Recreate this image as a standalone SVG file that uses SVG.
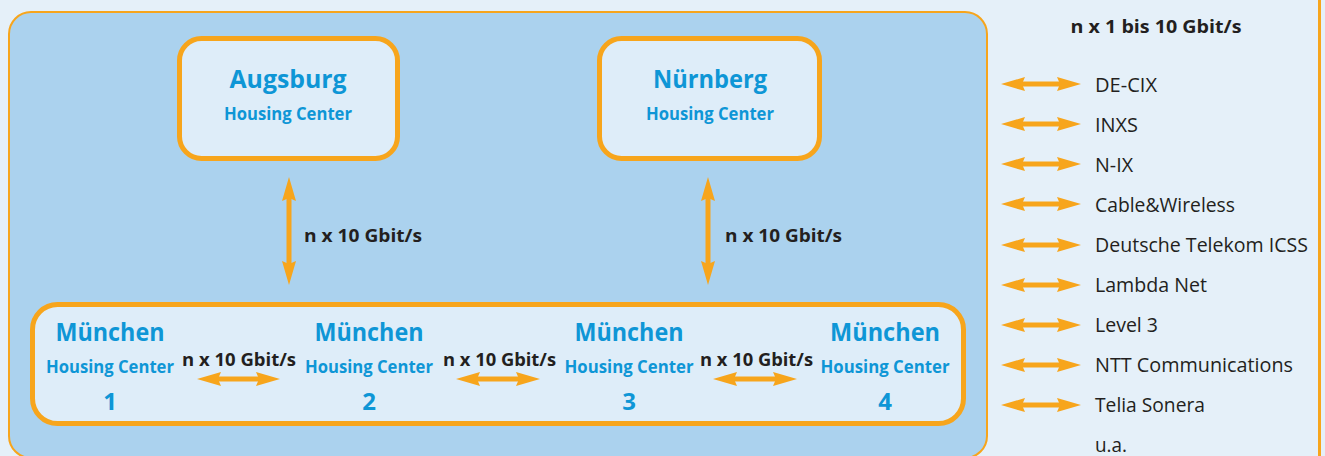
<svg xmlns="http://www.w3.org/2000/svg" width="1325" height="456" viewBox="0 0 1325 456">
<defs>
<style>
.node{fill:#deedf9;stroke:#f7a51c;stroke-width:5}
.city{font-family:"Open Sans","Liberation Sans",sans-serif;font-weight:bold;font-size:25px;fill:#0e96d6;text-anchor:middle}
.hc{font-family:"Open Sans","Liberation Sans",sans-serif;font-weight:bold;font-size:18px;fill:#0e96d6;text-anchor:middle}
.num{font-family:"Open Sans","Liberation Sans",sans-serif;font-weight:bold;font-size:24px;fill:#0e96d6;text-anchor:middle}
.lbl{font-family:"Open Sans","Liberation Sans",sans-serif;font-weight:bold;font-size:18px;fill:#231f20}
.ext{font-family:"Open Sans","Liberation Sans",sans-serif;font-size:20px;fill:#231f20}
.conn{stroke:#f7a51c;stroke-width:5;fill:none;marker-start:url(#ah);marker-end:url(#ah)}
</style>
<marker id="ah" markerUnits="userSpaceOnUse" viewBox="0 -7 24 14" markerWidth="24" markerHeight="14" refX="3" refY="0" orient="auto-start-reverse">
<path d="M0,-7 L24,0 L0,7 L3,0 Z" fill="#f7a51c"/>
</marker>
</defs>
<rect x="0" y="0" width="1325" height="456" fill="#e5f0f9"/>
<rect x="1318" y="0" width="3" height="456" fill="#f7a51c"/>
<rect id="outer" x="9" y="12" width="978" height="446" rx="22" fill="#abd2ee" stroke="#f7a51c" stroke-width="2"/>

<g id="augsburg">
<rect class="node" x="179.5" y="38.5" width="218" height="120" rx="22"/>
<text class="city" x="288" y="88" textLength="117" lengthAdjust="spacingAndGlyphs">Augsburg</text>
<text class="hc" x="288" y="120" textLength="128" lengthAdjust="spacingAndGlyphs">Housing Center</text>
</g>
<g id="nuernberg">
<rect class="node" x="599.5" y="38.5" width="220" height="120" rx="22"/>
<text class="city" x="710" y="88" textLength="114" lengthAdjust="spacingAndGlyphs">Nürnberg</text>
<text class="hc" x="710" y="120" textLength="128" lengthAdjust="spacingAndGlyphs">Housing Center</text>
</g>
<g id="muenchen">
<rect class="node" x="32.5" y="304.5" width="931" height="119" rx="25"/>
</g>
<g id="muenchen1">
<text class="city" x="110" y="341" textLength="109" lengthAdjust="spacingAndGlyphs">München</text>
<text class="hc" x="110" y="373" textLength="128" lengthAdjust="spacingAndGlyphs">Housing Center</text>
<text class="num" x="110" y="410">1</text>
</g>
<g id="muenchen2">
<text class="city" x="369" y="341" textLength="109" lengthAdjust="spacingAndGlyphs">München</text>
<text class="hc" x="369" y="373" textLength="128" lengthAdjust="spacingAndGlyphs">Housing Center</text>
<text class="num" x="369" y="410">2</text>
</g>
<g id="muenchen3">
<text class="city" x="629" y="341" textLength="109" lengthAdjust="spacingAndGlyphs">München</text>
<text class="hc" x="629" y="373" textLength="129" lengthAdjust="spacingAndGlyphs">Housing Center</text>
<text class="num" x="629" y="410">3</text>
</g>
<g id="muenchen4">
<text class="city" x="885" y="341" textLength="110" lengthAdjust="spacingAndGlyphs">München</text>
<text class="hc" x="885" y="373" textLength="129" lengthAdjust="spacingAndGlyphs">Housing Center</text>
<text class="num" x="885" y="410">4</text>
</g>

<g id="connectors">
<line class="conn" x1="289" y1="198" x2="289" y2="264"/>
<line class="conn" x1="708" y1="198" x2="708" y2="264"/>
<line class="conn" x1="218" y1="379" x2="259" y2="379"/>
<line class="conn" x1="477" y1="379" x2="519" y2="379"/>
<line class="conn" x1="734" y1="379" x2="776" y2="379"/>
<line class="conn" x1="1022" y1="84" x2="1060" y2="84"/>
<line class="conn" x1="1022" y1="124" x2="1060" y2="124"/>
<line class="conn" x1="1022" y1="164" x2="1060" y2="164"/>
<line class="conn" x1="1022" y1="204" x2="1060" y2="204"/>
<line class="conn" x1="1022" y1="245" x2="1060" y2="245"/>
<line class="conn" x1="1022" y1="285" x2="1060" y2="285"/>
<line class="conn" x1="1022" y1="325" x2="1060" y2="325"/>
<line class="conn" x1="1022" y1="365" x2="1060" y2="365"/>
<line class="conn" x1="1022" y1="405" x2="1060" y2="405"/>
</g>

<g id="labels">
<text class="lbl" x="304" y="242" textLength="118" lengthAdjust="spacingAndGlyphs">n x 10 Gbit/s</text>
<text class="lbl" x="725" y="242" textLength="117" lengthAdjust="spacingAndGlyphs">n x 10 Gbit/s</text>
<text class="lbl" x="182" y="366" textLength="114" lengthAdjust="spacingAndGlyphs">n x 10 Gbit/s</text>
<text class="lbl" x="443" y="366" textLength="113" lengthAdjust="spacingAndGlyphs">n x 10 Gbit/s</text>
<text class="lbl" x="700" y="366" textLength="113" lengthAdjust="spacingAndGlyphs">n x 10 Gbit/s</text>
</g>

<g id="externals">
<text class="lbl" x="1156" y="33" text-anchor="middle" textLength="171" lengthAdjust="spacingAndGlyphs">n x 1 bis 10 Gbit/s</text>
<text class="ext" x="1095" y="92" textLength="62" lengthAdjust="spacingAndGlyphs">DE-CIX</text>
<text class="ext" x="1095" y="132" textLength="43" lengthAdjust="spacingAndGlyphs">INXS</text>
<text class="ext" x="1095" y="172" textLength="38" lengthAdjust="spacingAndGlyphs">N-IX</text>
<text class="ext" x="1095" y="212" textLength="140" lengthAdjust="spacingAndGlyphs">Cable&amp;Wireless</text>
<text class="ext" x="1095" y="252" textLength="213" lengthAdjust="spacingAndGlyphs">Deutsche Telekom ICSS</text>
<text class="ext" x="1095" y="292" textLength="112" lengthAdjust="spacingAndGlyphs">Lambda Net</text>
<text class="ext" x="1095" y="332" textLength="63" lengthAdjust="spacingAndGlyphs">Level 3</text>
<text class="ext" x="1095" y="372" textLength="198" lengthAdjust="spacingAndGlyphs">NTT Communications</text>
<text class="ext" x="1095" y="412" textLength="110" lengthAdjust="spacingAndGlyphs">Telia Sonera</text>
<text class="ext" x="1095" y="452" textLength="32" lengthAdjust="spacingAndGlyphs">u.a.</text>
</g>
</svg>
